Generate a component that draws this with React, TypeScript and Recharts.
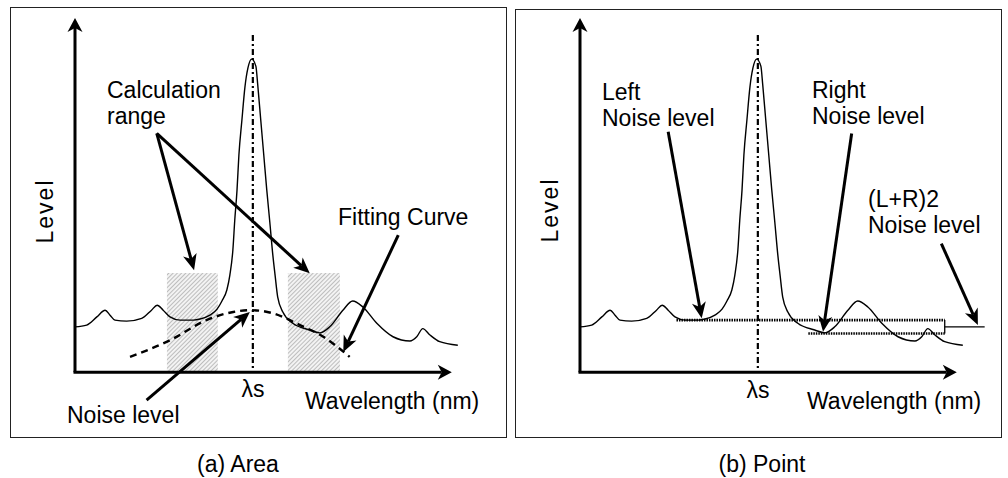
import React from 'react';
import { ComposedChart, Line, XAxis, YAxis, ReferenceLine, ReferenceArea } from 'recharts';

// spectrum shared by both panels (wavelength units / level units)
const SPEC_X = [0, 3.1, 5.8, 8.0, 9.3, 10.6, 13.7, 17.7, 20.3, 21.8, 23.4, 25.2, 27.9, 31.4, 33.2, 35.8, 37.7, 39.0, 40.3, 41.1, 41.9, 42.4, 43.0, 43.5, 44.3, 45.1, 45.9, 46.9, 48.0, 48.5, 49.3, 50.1, 50.9, 51.7, 52.5, 53.1, 53.8, 55.2, 57.8, 62.3, 65.0, 67.6, 71.1, 73.7, 76.4, 80.1, 84.4, 88.9, 90.7, 92.3, 94.2, 96.8, 101.6];
const SPEC_Y = [12.8, 13.3, 15.6, 17.5, 16.1, 14.7, 14.4, 15.2, 17.5, 18.9, 17.5, 15.6, 14.7, 14.7, 15.0, 16.1, 17.8, 20.1, 23.2, 27.4, 34.5, 42.9, 51.4, 61.3, 71.2, 80.5, 85.9, 88.4, 86.4, 81.1, 71.2, 61.3, 51.4, 42.4, 33.1, 27.4, 21.2, 16.9, 13.8, 11.9, 11.1, 12.8, 17.5, 20.1, 18.4, 13.8, 10.0, 8.8, 10.0, 12.3, 10.5, 8.6, 7.6];

// fitting curve (panel a)
const FIT_X = [14.6, 25.2, 34.9, 42.0, 46.9, 52.6, 59.7, 65.9, 72.9];
const FIT_Y = [4.3, 9.0, 14.7, 17.0, 17.5, 16.6, 13.3, 10.0, 4.3];

const LAMBDA_S = 47.2;
const LAMBDA_TOP = 95.2;

// calculation ranges (panel a)
const RANGES = [
  { x1: 24.4, x2: 37.9, top: 28.0 },
  { x1: 56.5, x2: 70.3, top: 28.0 },
];

// pointer arrows [from, to]
const ARROWS_A = [
  [{ x: 21.7, y: 67.4 }, { x: 31.6, y: 28.8 }],
  [{ x: 21.7, y: 67.4 }, { x: 62.3, y: 27.9 }],
  [{ x: 85.8, y: 38.7 }, { x: 71.2, y: 5.7 }],
  [{ x: 19.0, y: -7.9 }, { x: 46.4, y: 17.0 }],
];
const ARROWS_B = [
  [{ x: 23.4, y: 67.9 }, { x: 32.3, y: 15.2 }],
  [{ x: 72.1, y: 67.4 }, { x: 64.5, y: 11.4 }],
  [{ x: 95.9, y: 36.3 }, { x: 105.6, y: 13.3 }],
];

// noise levels (panel b)
const LEFT_NOISE = { level: 14.7, from: 25.6, to: 96.8 };
const RIGHT_NOISE = { level: 10.9, from: 60.6, to: 96.8 };
const AVG_NOISE = { level: 12.8, to: 107.4 };

const spectrum = SPEC_X.map((x, i) => ({ x, y: SPEC_Y[i] }));
const fitting = FIT_X.map((x, i) => ({ x, y: FIT_Y[i] }));

const FONT = '"Liberation Sans", Arial, sans-serif';

const arrow = (width: number, len: number, half: number) => (p: any) => {
  const { x1, y1, x2, y2 } = p;
  const dx = x2 - x1;
  const dy = y2 - y1;
  const d = Math.hypot(dx, dy) || 1;
  const ux = dx / d;
  const uy = dy / d;
  const nx = -uy;
  const ny = ux;
  const bx = x2 - ux * len;
  const by = y2 - uy * len;
  const mx = x2 - ux * len * 0.72;
  const my = y2 - uy * len * 0.72;
  const pts = [
    [x2, y2],
    [bx + nx * half, by + ny * half],
    [mx, my],
    [bx - nx * half, by - ny * half],
  ].map((q) => q.join(',')).join(' ');
  return (
    <g>
      <line x1={x1} y1={y1} x2={mx} y2={my} stroke="#000" strokeWidth={width} />
      <polygon points={pts} fill="#000" />
    </g>
  );
};

const pointer = arrow(3, 16, 7);
const axisArrow = arrow(3, 14, 7.5);

function Panel({ left, top, children }: { left: number; top: number; children?: React.ReactNode }) {
  return (
    <div style={{ position: 'absolute', left, top }}>
      <ComposedChart width={497} height={446} margin={{ top: 11, right: 10, bottom: 10, left: 65 }}>
        <XAxis type="number" dataKey="x" domain={[0, 112]} hide allowDataOverflow />
        <YAxis type="number" dataKey="y" domain={[-20, 100]} hide allowDataOverflow />
        {children}
        <Line data={spectrum} dataKey="y" type="monotone" stroke="#000" strokeWidth={1.4} dot={false} isAnimationActive={false} />
        <ReferenceLine
          segment={[{ x: LAMBDA_S, y: LAMBDA_TOP }, { x: LAMBDA_S, y: 0 }]}
          stroke="#000"
          strokeWidth={2.2}
          strokeDasharray="6 3 2 3"
          ifOverflow="visible"
        />
        <ReferenceLine segment={[{ x: 0, y: 0 }, { x: 0, y: 100 }]} shape={axisArrow} ifOverflow="visible" />
        <ReferenceLine segment={[{ x: -0.4, y: 0 }, { x: 100, y: 0 }]} shape={axisArrow} ifOverflow="visible" />
      </ComposedChart>
    </div>
  );
}

const text: React.CSSProperties = {
  position: 'absolute',
  fontSize: 23,
  lineHeight: '26px',
  color: '#000',
  whiteSpace: 'pre',
};

function Label({ x, y, children, center }: { x: number; y: number; children: React.ReactNode; center?: boolean }) {
  return (
    <div style={{ ...text, left: x, top: y, transform: center ? 'translateX(-50%)' : undefined }}>{children}</div>
  );
}

function LevelLabel({ x, y }: { x: number; y: number }) {
  return (
    <div
      style={{
        ...text,
        left: x,
        top: y,
        letterSpacing: 2,
        transform: 'translate(-50%, -50%) rotate(-90deg)',
      }}
    >
      Level
    </div>
  );
}

export default function App() {
  return (
    <div style={{ position: 'absolute', left: 0, top: 0, width: 1008, height: 478, background: '#fff', fontFamily: FONT, overflow: 'hidden' }}>
      <svg width={0} height={0} style={{ position: 'absolute' }}>
        <defs>
          <pattern id="hatch" width="3" height="3" patternUnits="userSpaceOnUse" patternTransform="rotate(45)">
            <rect width="3" height="3" fill="#f3f3f3" />
            <line x1="0.5" y1="0" x2="0.5" y2="3" stroke="#bdbdbd" strokeWidth="1" />
          </pattern>
        </defs>
      </svg>

      <div style={{ position: 'absolute', left: 10, top: 7, width: 495, height: 429, border: '1px solid #222' }} />
      <div style={{ position: 'absolute', left: 515, top: 9, width: 485, height: 427, border: '1px solid #222' }} />

      {/* (a) Area */}
      <Panel left={10} top={7}>
        {RANGES.map((r, i) => (
          <ReferenceArea key={i} x1={r.x1} x2={r.x2} y1={0} y2={r.top} fill="url(#hatch)" fillOpacity={1} stroke="none" ifOverflow="visible" />
        ))}
        <Line data={fitting} dataKey="y" type="monotone" stroke="#000" strokeWidth={2.4} strokeDasharray="7 5" dot={false} isAnimationActive={false} />
        {ARROWS_A.map((s, i) => (
          <ReferenceLine key={i} segment={s} shape={pointer} ifOverflow="visible" />
        ))}
      </Panel>

      {/* (b) Point */}
      <Panel left={515} top={7}>
        <ReferenceLine
          segment={[{ x: LEFT_NOISE.from, y: LEFT_NOISE.level }, { x: LEFT_NOISE.to, y: LEFT_NOISE.level }]}
          stroke="#000" strokeWidth={2.6} strokeDasharray="1.5 1" ifOverflow="visible"
        />
        <ReferenceLine
          segment={[{ x: RIGHT_NOISE.from, y: RIGHT_NOISE.level }, { x: RIGHT_NOISE.to, y: RIGHT_NOISE.level }]}
          stroke="#000" strokeWidth={2.6} strokeDasharray="1.5 1" ifOverflow="visible"
        />
        <ReferenceLine
          segment={[{ x: LEFT_NOISE.to, y: RIGHT_NOISE.level }, { x: LEFT_NOISE.to, y: LEFT_NOISE.level }]}
          stroke="#000" strokeWidth={1.3} ifOverflow="visible"
        />
        <ReferenceLine
          segment={[{ x: LEFT_NOISE.to, y: AVG_NOISE.level }, { x: AVG_NOISE.to, y: AVG_NOISE.level }]}
          stroke="#000" strokeWidth={1.3} ifOverflow="visible"
        />
        {ARROWS_B.map((s, i) => (
          <ReferenceLine key={i} segment={s} shape={pointer} ifOverflow="visible" />
        ))}
      </Panel>

      {/* panel a text */}
      <Label x={107} y={77}>{'Calculation\nrange'}</Label>
      <Label x={338} y={204}>Fitting Curve</Label>
      <Label x={67} y={402}>Noise level</Label>
      <Label x={253} y={376} center>λs</Label>
      <Label x={305} y={388}>Wavelength (nm)</Label>
      <LevelLabel x={45} y={211} />
      <Label x={238} y={451} center>(a) Area</Label>

      {/* panel b text */}
      <Label x={602} y={79}>{'Left\nNoise level'}</Label>
      <Label x={812} y={77}>{'Right\nNoise level'}</Label>
      <Label x={868} y={186}>{'(L+R)2\nNoise level'}</Label>
      <Label x={758} y={377} center>λs</Label>
      <Label x={807} y={388}>Wavelength (nm)</Label>
      <LevelLabel x={550} y={210} />
      <Label x={762} y={451} center>(b) Point</Label>
    </div>
  );
}
